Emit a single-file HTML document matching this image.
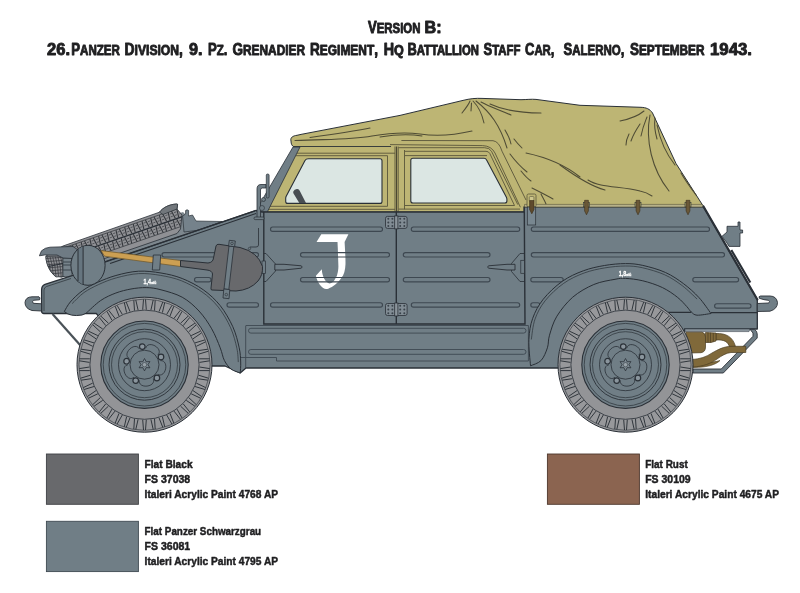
<!DOCTYPE html>
<html lang="en"><head><meta charset="utf-8"><title>Version B</title>
<style>
html,body{margin:0;padding:0;background:#fff;}
body{width:800px;height:593px;overflow:hidden;}
svg{display:block;position:absolute;left:0;top:0;will-change:transform;}
.t text{font-family:"Liberation Sans",sans-serif;font-weight:bold;fill:#1f1f21;stroke:#1f1f21;stroke-linejoin:round;}
.t .h{stroke-width:0.9px;}
.t .l{stroke-width:0.5px;}
</style></head><body>
<svg width="800" height="593" viewBox="0 0 800 593">
<rect width="800" height="593" fill="#ffffff"/>
<path d="M291,141 C290,137.5 293,135.8 297,135.3 L301,134.4 L400,115.4 L463,100.4 C470,98.6 476,98.1 482,98.4 L521,99.7 C527,99.6 531,99 536,99.4 L580,105.3 L641,107.3 C646,107.5 650,109 652.5,113 L676,163.5 L703.5,206.5 L524,206.5 L524,212 L262,212 L294,147 C292,146 291,144 291,141 Z" fill="#bdb574" stroke="#2a3037" stroke-width="1"/>
<path d="M308.5,158.7 L380,158.7 Q382,158.7 382,160.7 L382,201.4 Q382,203.4 380,203.4 L287.7,203.4 Q285.7,203.4 285.7,201.4 L285.7,198.3 Q285.7,197.3 286.2,196.3 L305,160.4 Q305.9,158.7 308.5,158.7 Z" fill="#dbe6e3" stroke="#2a3037" stroke-width="1.1"/>
<path d="M413,158.3 L484,158.3 Q485.8,158.3 486.6,160 L506.4,197.2 Q506.9,198.2 506.9,199.3 L506.9,201 Q506.9,203 504.9,203 L413,203 Q410.8,203 410.8,201 L410.8,160.3 Q410.8,158.3 413,158.3 Z" fill="#dbe6e3" stroke="#2a3037" stroke-width="1.1"/>
<g fill="none" stroke="#59553a" stroke-width="0.9">
<path d="M294,146.5 L391,146.5" stroke="#2a3037"/>
<path d="M297,153.2 L395,153.2 M296,155.7 L387.5,155.7 L387.5,206.3 L270,206.3 M268,209.3 L395,209.3"/>
<path d="M395,146.5 L395,212 M398.2,146.5 L398.2,212 M404.5,150 L404.5,209.3"/><path d="M396.6,146.5 L396.6,212" stroke="#3f3d2c" stroke-width="1"/>
<path d="M398.5,147.7 L484.5,147.7 Q489.5,147.7 491.5,151.3 L517.8,204.6 M404.9,151.3 L486,151.3 Q488.6,151.3 489.8,153.5 L514.5,205.5 M404.9,155.6 L487,155.6 M404.9,205.5 L514.5,205.5 M398.5,209.1 L520,209.1"/><path d="M390,144.6 L482.7,145.6 Q491.5,146 495,153 L520.4,207.2"/>
<path d="M401.4,140.5 L493,140.7 Q499,141.5 502,151.2 L526,200"/>
</g>
<g fill="none" stroke="#4f4c35" stroke-width="1.05" stroke-linecap="round">
<path d="M295,140.5 C330,139 350,140 372,136 C390,133 405,132 420,134 C440,137 455,135 472,131"/>
<path d="M310,137.5 C335,134 355,131 370,128"/>
<path d="M380,137 C395,134.5 410,134 422,136"/>
<path d="M462,113 C466,108 469,104 470,101 M471,111 L471.5,103 M473,101 C478,106 482,114 484,123 M476,101 C490,112 500,125 507,148 M481,102 C490,107 500,110 511,115 M490,104 C505,111 520,113 541,113"/>
<path d="M505,130 C508,135 510,139 511,144 M514,139 C517,143 520,146 522,148 M510,154 C516,162 522,168 527,172 M526,153 C545,157 565,165 580,177 M521,171 C525,176 528,179 531,181 M532,188 C540,192 548,196 553,199 M541,194 C543,198 545,201 546,204"/>
<path d="M620,121 C630,119 638,116 644,111 M647,117 C645,122 643,126 641,136 M640,124 C636,130 633,135 631,141 M629,134 C627,138 626,141 626,145 M650,115 C645,140 652,170 669,191 M655,118 C654,125 655,132 657,139 M657,125 C660,140 667,155 675,165 M681,173 C685,180 690,187 696,195 M588,180 C600,188 620,186 640,191 C645,192 649,194 652,196 M560,165 C575,176 590,186 605,190"/>
</g>
<path d="M293,147 L300,147 L267.3,212 L259,212 L259,205.5 L263.7,197.3 Z" fill="#707e86" stroke="#2a3037" stroke-width="0.8"/>
<path d="M60,278 L106,262 L200,229 L183,212 L100,240 Z" fill="#7d878e"/>
<path d="M63,246 L159.5,212.2 C163,207.5 169,204.5 176.5,204 L177.6,204.3 L177,209 L182,215 L180.5,229 L177,233.5 L106,258 L62,277 L55,276 C50,272 46,264 46,256 Z" fill="#8f9094" stroke="#2a3037" stroke-width="0.8"/>
<clipPath id="st"><path d="M63,246 L159.5,212.2 C163,207.5 169,204.5 176.5,204 L177.6,204.3 L177,209 L182,215 L180.5,229 L177,233.5 L106,258 L62,277 Z"/></clipPath>
<g clip-path="url(#st)"><path d="M67.1,247.0L71.0,254.3M72.5,245.1L74.3,253.1M75.8,244.0L79.7,251.3M81.2,242.1L83.0,250.1M84.5,241.0L88.4,248.3M89.9,239.1L91.7,247.1M93.2,238.0L97.1,245.3M98.6,236.1L100.4,244.1M101.9,235.0L105.8,242.3M107.3,233.1L109.1,241.1M110.6,232.0L114.5,239.3M116.0,230.1L117.8,238.1M119.3,229.0L123.2,236.3M124.7,227.1L126.5,235.1M128.0,226.0L131.9,233.3M133.3,224.1L135.2,232.1M136.7,223.0L140.6,230.3M142.0,221.1L143.9,229.1M145.4,220.0L149.3,227.3M150.7,218.1L152.6,226.1M154.0,216.9L158.0,224.3M159.4,215.1L161.3,223.1M162.7,213.9L166.6,221.3M168.1,212.1L170.0,220.1M171.4,210.9L175.3,218.3M176.8,209.1L178.7,217.1M180.1,207.9L184.0,215.3M185.5,206.1L187.4,214.1M188.8,204.9L192.7,212.3M194.2,203.1L196.0,211.1M72.4,255.3L76.2,262.4M77.8,253.4L79.5,261.3M81.1,252.3L84.9,259.4M86.5,250.4L88.2,258.3M89.8,249.3L93.6,256.4M95.2,247.4L96.9,255.3M98.5,246.3L102.3,253.4M103.9,244.4L105.6,252.3M107.2,243.3L111.0,250.4M112.6,241.4L114.3,249.3M115.9,240.3L119.7,247.4M121.3,238.4L123.0,246.3M124.6,237.3L128.4,244.4M130.0,235.4L131.7,243.3M133.3,234.3L137.1,241.4M138.7,232.4L140.4,240.3M142.0,231.3L145.8,238.4M147.3,229.4L149.1,237.3M150.7,228.3L154.5,235.4M156.0,226.4L157.8,234.3M159.4,225.3L163.2,232.4M164.7,223.4L166.5,231.3M168.1,222.3L171.9,229.4M173.4,220.4L175.2,228.3M176.7,219.3L180.6,226.4M182.1,217.4L183.9,225.3M185.4,216.3L189.3,223.4M190.8,214.4L192.6,222.3M194.1,213.3L198.0,220.4M199.5,211.4L201.3,219.3" stroke="#33363b" stroke-width="1.1" fill="none"/>
<path d="M69.7,248.6L71.8,247.9M70.7,251.4L72.8,250.7M74.1,247.1L76.2,246.4M75.0,249.9L77.1,249.2M78.4,245.6L80.5,244.9M79.4,248.4L81.5,247.7M82.8,244.1L84.9,243.4M83.7,246.9L85.8,246.2M87.1,242.6L89.2,241.9M88.1,245.4L90.2,244.7M91.5,241.1L93.5,240.4M92.4,243.9L94.5,243.2M95.8,239.6L97.9,238.9M96.8,242.4L98.9,241.7M100.2,238.1L102.2,237.4M101.1,240.9L103.2,240.2M104.5,236.6L106.6,235.9M105.5,239.4L107.6,238.7M108.9,235.1L110.9,234.4M109.8,237.9L111.9,237.2M113.2,233.6L115.3,232.9M114.2,236.4L116.3,235.7M117.6,232.1L119.6,231.4M118.5,234.9L120.6,234.2M121.9,230.6L124.0,229.9M122.9,233.4L124.9,232.7M126.3,229.1L128.3,228.4M127.2,231.9L129.3,231.2M130.6,227.6L132.7,226.9M131.6,230.4L133.6,229.7M135.0,226.1L137.0,225.4M135.9,228.9L138.0,228.2M139.3,224.6L141.4,223.9M140.3,227.4L142.3,226.7M143.6,223.1L145.7,222.4M144.6,225.9L146.7,225.2M148.0,221.6L150.1,220.9M149.0,224.4L151.0,223.7M152.3,220.1L154.4,219.4M153.3,222.9L155.4,222.2M156.7,218.6L158.8,217.9M157.7,221.4L159.7,220.7M161.0,217.1L163.1,216.4M162.0,219.9L164.1,219.2M165.4,215.6L167.5,214.9M166.4,218.4L168.4,217.7M169.7,214.1L171.8,213.4M170.7,216.9L172.8,216.2M174.1,212.6L176.2,211.9M175.1,215.4L177.1,214.7M178.4,211.1L180.5,210.4M179.4,213.9L181.5,213.2M182.8,209.6L184.9,208.9M183.7,212.4L185.8,211.7M187.1,208.1L189.2,207.4M188.1,210.9L190.2,210.2M191.5,206.6L193.6,205.9M192.4,209.4L194.5,208.7M195.8,205.1L197.9,204.4M196.8,207.9L198.9,207.2M75.0,256.9L77.1,256.2M76.0,259.6L78.0,258.9M79.4,255.4L81.4,254.7M80.3,258.1L82.4,257.4M83.7,253.9L85.8,253.2M84.6,256.6L86.7,255.9M88.1,252.4L90.1,251.7M89.0,255.1L91.1,254.4M92.4,250.9L94.5,250.2M93.3,253.6L95.4,252.9M96.8,249.4L98.8,248.7M97.7,252.1L99.8,251.4M101.1,247.9L103.2,247.2M102.0,250.6L104.1,249.9M105.5,246.4L107.5,245.7M106.4,249.1L108.5,248.4M109.8,244.9L111.9,244.2M110.7,247.6L112.8,246.9M114.1,243.4L116.2,242.7M115.1,246.1L117.2,245.4M118.5,241.9L120.6,241.2M119.4,244.6L121.5,243.9M122.8,240.4L124.9,239.7M123.8,243.1L125.9,242.4M127.2,238.9L129.3,238.2M128.1,241.6L130.2,240.9M131.5,237.4L133.6,236.7M132.5,240.1L134.6,239.4M135.9,235.9L138.0,235.2M136.8,238.6L138.9,237.9M140.2,234.4L142.3,233.7M141.2,237.1L143.3,236.4M144.6,232.9L146.7,232.2M145.5,235.6L147.6,234.9M148.9,231.4L151.0,230.7M149.9,234.1L152.0,233.4M153.3,229.9L155.4,229.2M154.2,232.6L156.3,231.9M157.6,228.4L159.7,227.7M158.6,231.1L160.7,230.4M162.0,226.9L164.1,226.2M162.9,229.6L165.0,228.9M166.3,225.4L168.4,224.7M167.3,228.1L169.3,227.4M170.7,223.9L172.8,223.2M171.6,226.6L173.7,225.9M175.0,222.4L177.1,221.7M176.0,225.1L178.0,224.4M179.4,220.9L181.5,220.2M180.3,223.6L182.4,222.9M183.7,219.4L185.8,218.7M184.7,222.1L186.7,221.4M188.1,217.9L190.2,217.2M189.0,220.6L191.1,219.9M192.4,216.4L194.5,215.7M193.4,219.1L195.4,218.4M196.8,214.9L198.8,214.2M197.7,217.6L199.8,216.9M201.1,213.4L203.2,212.7M202.1,216.1L204.1,215.4" stroke="#505358" stroke-width="1" fill="none"/>
<path d="M63.8,247.9L196.2,202.2M69.7,264.9L202.1,219.2" stroke="#3a3d42" stroke-width="0.8" fill="none"/>
<path d="M66.8,256.5L199.2,210.8" stroke="#2a3037" stroke-width="1.3" fill="none"/></g>
<path d="M159.5,212.2 C163,207.5 169,204.5 176.5,204 L177.6,204.3 L177,209 L163,214.5 Z" fill="#72777c" stroke="#2a3037" stroke-width="0.7"/>
<path d="M45.8,256.5 L61,256 L63,258 L63,276.5 L56,277 C50,272 46,264 45.8,256.5 Z" fill="#8f9094" stroke="#2a3037" stroke-width="0.7"/>
<clipPath id="ft"><path d="M45.8,256.5 L61,256 L63,258 L63,276.5 L56,277 C50,272 46,264 45.8,256.5 Z"/></clipPath>
<g clip-path="url(#ft)"><path d="M47.5,257.0L49.7,266.0L50.8,276.5M50.1,256.9L52.3,266.0L53.4,276.5M52.7,256.8L54.9,266.0L56.0,276.5M55.3,256.7L57.5,266.0L58.6,276.5M57.9,256.6L60.1,266.0L61.2,276.5M60.5,256.5L62.7,266.0L63.8,276.5M46.0,258.5L62.5,257.3M46.9,261.6L62.5,260.4M47.8,264.7L62.5,263.5M48.7,267.8L62.5,266.6M49.6,270.9L62.5,269.7M50.5,274.0L62.5,272.8" stroke="#34373c" stroke-width="0.7" fill="none"/>
<path d="M46,267 L63,263.5" stroke="#2a3037" stroke-width="1.1"/></g>
<path d="M63,258 L72,258 L72,276.5 L63,276.5 Z" fill="#77838b" stroke="#2a3037" stroke-width="0.6"/><path d="M63,262 L72,262 M63,265 L72,265 M63,270 L72,270" stroke="#3b444c" stroke-width="1.2"/>
<path d="M39.4,255.8 L41.5,250.8 Q45,247.6 50,247.2 L73,246.5 L78,250 L72,258.5 L63,258 L57,255 L44.5,255 Z" fill="#6f7b84" stroke="#2a3037" stroke-width="0.8"/>
<path d="M182.6,216 L185.6,214 L185.6,210.5 Q187,209 188.6,210.5 L188.6,216 L192.5,215 L196,221 L222,221.5 L200,230 L184,232 Z" fill="#75828b" stroke="#2a3037" stroke-width="0.7"/>
<path d="M41.6,290 Q41.6,285.5 45,284.3 L72,275.7 L104,262 L256,210.5 L262,212 L524.3,212 L524.3,206.8 L703.5,206.8 L757.3,299.5 L757.3,329 L750,329 L684.5,329 L684.5,368 L246,368 L240.2,373 L225,366 L144,366 L96,313.3 L44,313.5 Q41.6,313.5 41.6,311 Z" fill="#707e86" stroke="#2a3037" stroke-width="1.3" stroke-linejoin="round"/>
<path d="M44,311 L44,290 Q44,287.5 46.5,286.5 L71,278.5" fill="none" stroke="#2a3037" stroke-width="0.7"/>
<path d="M104,262.5 L256,210.3 M110,263.6 L256,213.4" stroke="#2a3037" stroke-width="1.1" fill="none"/>
<path d="M321.3,234.2 L348.4,234.2 L344.6,242.1 C345,250 345.6,258 345.5,264 C345.3,270 344,275 341.3,278.1 C338,283 333,287 328.3,288.7 C326,289.2 324.5,289 323.6,288.2 C320,286 317,281 315.9,275.8 L321.8,269.3 C322,272 322.3,274 323,275.8 C324,279 326,282.5 329.5,283.4 C332,283 333.5,282 334.2,280.5 C336,278 337,276 337.2,274.6 C338,272 338.4,269 338.4,266.3 L337.8,248.6 L337.5,242.1 L316.5,242.1 Z" fill="#ffffff"/>
<rect x="270.5" y="227.00" width="112.0" height="4.4" rx="2.2" fill="none" stroke="#3e4851" stroke-width="1.15"/>
<rect x="300.5" y="252.60" width="89.0" height="4.4" rx="2.2" fill="none" stroke="#3e4851" stroke-width="1.15"/>
<rect x="300.5" y="277.50" width="89.0" height="4.4" rx="2.2" fill="none" stroke="#3e4851" stroke-width="1.15"/>
<rect x="270.5" y="302.70" width="112.0" height="4.4" rx="2.2" fill="none" stroke="#3e4851" stroke-width="1.15"/>
<rect x="411.3" y="227.00" width="108.4" height="4.4" rx="2.2" fill="none" stroke="#3e4851" stroke-width="1.15"/>
<rect x="403.3" y="252.60" width="86.7" height="4.4" rx="2.2" fill="none" stroke="#3e4851" stroke-width="1.15"/>
<rect x="403.3" y="277.50" width="86.7" height="4.4" rx="2.2" fill="none" stroke="#3e4851" stroke-width="1.15"/>
<rect x="411.3" y="302.70" width="108.4" height="4.4" rx="2.2" fill="none" stroke="#3e4851" stroke-width="1.15"/>
<rect x="531.3" y="227.00" width="178.2" height="4.4" rx="2.2" fill="none" stroke="#3e4851" stroke-width="1.15"/>
<rect x="531.3" y="252.60" width="193.2" height="4.4" rx="2.2" fill="none" stroke="#3e4851" stroke-width="1.15"/>
<rect x="530.8" y="277.50" width="32.4" height="4.4" rx="2.2" fill="none" stroke="#3e4851" stroke-width="1.15"/>
<rect x="692.8" y="277.50" width="45.8" height="4.4" rx="2.2" fill="none" stroke="#3e4851" stroke-width="1.15"/>
<rect x="530.8" y="302.70" width="9.2" height="4.4" rx="2.2" fill="none" stroke="#3e4851" stroke-width="1.15"/>
<rect x="714.6" y="303.70" width="36.4" height="4.4" rx="2.2" fill="none" stroke="#3e4851" stroke-width="1.15"/>
<rect x="162" y="252.60" width="96.5" height="4.4" rx="2.2" fill="none" stroke="#3e4851" stroke-width="1.15"/>
<rect x="194.5" y="277.50" width="16.5" height="4.4" rx="2.2" fill="none" stroke="#3e4851" stroke-width="1.15"/>
<rect x="227" y="302.70" width="31.5" height="4.4" rx="2.2" fill="none" stroke="#3e4851" stroke-width="1.15"/>
<path d="M263.8,212 L263.8,324 L525,324 L524.3,212 M396.3,212 L396.3,324" stroke="#2a3037" stroke-width="1.4" fill="none"/>
<g fill="none" stroke="#3e4851" stroke-width="0.9">
<path d="M246,325.5 L528.4,325.5 L528.4,361 M245.7,325.5 L245.7,368"/>
<rect x="248.5" y="328.3" width="277.5" height="4.8" rx="2.4"/>
<rect x="248.5" y="349.5" width="277.5" height="4.8" rx="2.4"/>
<path d="M241,357.5 L276.5,357.5 L276.5,361 L528.4,361"/>
</g>
<g stroke="#2a3037" stroke-width="0.8" fill="#818c94"><rect x="385.5" y="216.4" width="21.6" height="12" rx="2"/><rect x="394.7" y="215.9" width="3.2" height="13" fill="#8b959c"/><circle cx="388.3" cy="218.70000000000002" r="1" fill="#3a434b" stroke="none"/><circle cx="388.3" cy="222.4" r="1" fill="#3a434b" stroke="none"/><circle cx="388.3" cy="226.1" r="1" fill="#3a434b" stroke="none"/><circle cx="392.40000000000003" cy="218.70000000000002" r="1" fill="#3a434b" stroke="none"/><circle cx="392.40000000000003" cy="222.4" r="1" fill="#3a434b" stroke="none"/><circle cx="392.40000000000003" cy="226.1" r="1" fill="#3a434b" stroke="none"/><circle cx="400.2" cy="218.70000000000002" r="1" fill="#3a434b" stroke="none"/><circle cx="400.2" cy="222.4" r="1" fill="#3a434b" stroke="none"/><circle cx="400.2" cy="226.1" r="1" fill="#3a434b" stroke="none"/><circle cx="404.3" cy="218.70000000000002" r="1" fill="#3a434b" stroke="none"/><circle cx="404.3" cy="222.4" r="1" fill="#3a434b" stroke="none"/><circle cx="404.3" cy="226.1" r="1" fill="#3a434b" stroke="none"/></g>
<g stroke="#2a3037" stroke-width="0.8" fill="#818c94"><rect x="385.5" y="303.5" width="21.6" height="12" rx="2"/><rect x="394.7" y="303.0" width="3.2" height="13" fill="#8b959c"/><circle cx="388.3" cy="305.8" r="1" fill="#3a434b" stroke="none"/><circle cx="388.3" cy="309.5" r="1" fill="#3a434b" stroke="none"/><circle cx="388.3" cy="313.2" r="1" fill="#3a434b" stroke="none"/><circle cx="392.40000000000003" cy="305.8" r="1" fill="#3a434b" stroke="none"/><circle cx="392.40000000000003" cy="309.5" r="1" fill="#3a434b" stroke="none"/><circle cx="392.40000000000003" cy="313.2" r="1" fill="#3a434b" stroke="none"/><circle cx="400.2" cy="305.8" r="1" fill="#3a434b" stroke="none"/><circle cx="400.2" cy="309.5" r="1" fill="#3a434b" stroke="none"/><circle cx="400.2" cy="313.2" r="1" fill="#3a434b" stroke="none"/><circle cx="404.3" cy="305.8" r="1" fill="#3a434b" stroke="none"/><circle cx="404.3" cy="309.5" r="1" fill="#3a434b" stroke="none"/><circle cx="404.3" cy="313.2" r="1" fill="#3a434b" stroke="none"/></g>
<path d="M263.8,253.5 L266,253.5 L275.5,264 L275.5,271 L266,281.5 L263.8,281.5" fill="none" stroke="#2a3037" stroke-width="0.8"/>
<path d="M274.8,264.3 L284,264.3 L301.3,265.8 Q303,267 301.3,268.2 L284,270 L274.8,270 Z" fill="#707e86" stroke="#2a3037" stroke-width="0.9"/>
<rect x="262" y="261" width="3.6" height="12.5" fill="#707e86" stroke="#2a3037" stroke-width="0.7"/>
<path d="M524.3,253.5 L520,253.5 L511.5,263.5 L511.5,271.5 L520,281.5 L524.3,281.5" fill="none" stroke="#2a3037" stroke-width="0.8"/>
<path d="M515,264.3 L507,264.3 L488.5,265.8 Q486.8,267 488.5,268.2 L507,270 L515,270 Z" fill="#707e86" stroke="#2a3037" stroke-width="0.9"/>
<rect x="520.8" y="260.3" width="3.6" height="13" fill="#707e86" stroke="#2a3037" stroke-width="0.7"/>
<path d="M64.3,311.5C65.3,309.9 67.3,305.5 70.3,302.0C73.3,298.5 77.9,294.0 82.5,290.7C87.1,287.4 92.1,284.8 97.7,282.3C103.3,279.8 109.1,277.4 115.9,275.5C122.7,273.6 131.1,271.6 138.6,271.2C146.1,270.8 153.7,271.8 161.0,273.0C168.3,274.2 175.1,275.7 182.2,278.5C189.2,281.3 197.0,285.3 203.3,289.8C209.6,294.3 215.3,299.5 220.2,305.6C225.1,311.8 229.6,319.7 232.8,326.7C236.0,333.7 237.9,341.9 239.2,347.8C240.5,353.7 240.5,357.8 240.7,362.0C240.9,366.2 240.3,371.2 240.2,373.0L240.2,373.0C238.7,372.3 233.6,371.1 231.0,369.0C228.4,366.9 226.2,364.0 224.4,360.5C222.6,357.0 222.3,353.1 220.2,347.8C218.1,342.5 215.2,334.9 211.7,328.8C208.2,322.7 203.9,316.3 199.0,311.0C194.1,305.7 188.5,300.7 182.2,297.2C175.9,293.7 167.0,291.4 161.0,289.8C155.0,288.2 151.2,287.7 146.2,287.6C141.2,287.5 136.1,288.1 131.0,289.0C126.0,289.9 121.0,291.1 115.9,293.0C110.9,294.9 105.7,297.1 100.7,300.5C95.7,303.9 88.5,311.2 86.0,313.3 L82,315 Q70,317 64.3,311.5Z" fill="#707e86" stroke="#2a3037" stroke-width="1"/>
<path d="M72.1,303.6C74.1,301.8 79.5,295.8 83.9,292.6C88.3,289.5 93.3,287.0 98.7,284.5C104.1,282.0 109.9,279.6 116.5,277.8C123.2,276.0 131.4,274.0 138.7,273.6C146.1,273.2 153.5,274.2 160.6,275.4C167.7,276.6 174.4,278.0 181.3,280.7C188.2,283.5 195.7,287.4 201.9,291.8C208.1,296.1 213.5,301.1 218.3,307.1C223.1,313.1 227.5,320.8 230.6,327.7C233.7,334.6 235.6,342.6 236.9,348.3C238.1,354.1 238.1,359.8 238.3,362.1" fill="none" stroke="#2a3037" stroke-width="0.7"/>
<path d="M530.5,365.8C530.2,361.4 528.5,347.3 528.9,339.4C529.3,331.5 530.3,325.0 532.7,318.3C535.1,311.6 538.3,305.5 543.2,299.3C548.1,293.1 555.5,286.1 562.2,281.4C568.9,276.6 576.3,273.4 583.3,270.8C590.3,268.2 597.4,266.7 604.4,265.5C611.4,264.3 619.1,263.6 625.5,263.6C631.9,263.6 636.1,263.9 642.8,265.4C649.5,266.9 658.7,269.4 665.5,272.5C672.3,275.6 678.1,279.6 683.7,283.8C689.3,288.0 694.4,292.6 698.9,297.5C703.4,302.4 709.0,310.8 711.0,313.5L711.0,313.5C708.7,313.8 700.3,315.4 697.0,315.2C693.7,314.9 693.0,313.4 691.3,312.0C689.6,310.6 689.1,309.0 686.8,306.6C684.5,304.2 681.8,300.7 677.7,297.5C673.7,294.3 668.3,290.4 662.5,287.6C656.7,284.8 649.0,282.3 642.8,280.8C636.6,279.3 630.1,278.6 625.5,278.4C620.9,278.1 620.3,278.3 615.0,279.3C609.7,280.3 600.8,281.5 593.8,284.5C586.8,287.5 578.9,291.9 572.7,297.2C566.6,302.5 560.8,309.9 556.9,316.2C553.0,322.5 551.1,329.9 549.5,335.2C547.9,340.5 548.8,343.6 547.4,347.8C546.0,352.0 543.9,357.5 541.1,360.5C538.3,363.5 532.3,364.9 530.5,365.8Z" fill="#707e86" stroke="#2a3037" stroke-width="1"/>
<path d="M531.3,339.5C531.9,336.1 532.7,325.6 535.0,319.1C537.3,312.7 540.3,306.8 545.1,300.8C549.8,294.8 557.1,288.0 563.6,283.4C570.1,278.7 577.3,275.6 584.1,273.0C591.0,270.5 597.9,269.0 604.8,267.9C611.7,266.7 619.3,266.0 625.5,266.0C631.8,266.0 635.8,266.3 642.3,267.7C648.8,269.2 657.9,271.7 664.5,274.7C671.2,277.7 676.8,281.6 682.3,285.7C687.7,289.8 694.7,296.9 697.1,299.1" fill="none" stroke="#2a3037" stroke-width="0.7"/>
<path d="M668,312.4 L691.3,312.4 M711,312.6 L757,312.6" stroke="#2a3037" stroke-width="1.1" fill="none"/>
<path d="M685,329 L750,329 L749,331.6 L685,331.6 Z" fill="#8a959c" stroke="#3e4851" stroke-width="0.6"/>
<path d="M716,333.5 C726,333 733,337 735.5,346.5 L729.5,347 C728,341.5 724,339.5 716,340 Z" fill="#80693a" stroke="#4a3d22" stroke-width="0.7"/>
<path d="M686,332.2 L702,332.2 Q705.5,333 705.5,337 L705.5,347 Q705.5,352 701,352.7 L690,353 Z" fill="#80693a" stroke="#4a3d22" stroke-width="0.7"/>
<path d="M705.5,332.5 L716,333 L716,341 L711,342.5 L705.5,342.5 Z" fill="#80693a" stroke="#4a3d22" stroke-width="0.7"/><path d="M708,332.5 L708,342.5 M710.5,332.7 L710.5,342.5 M713.3,333 L713.3,341.8" stroke="#4a3d22" stroke-width="0.7"/>
<path d="M692,361 C702,362.5 712,363 720,360.5 C716,364.5 708,367.5 693,367.5 Z" fill="#80693a" stroke="#4a3d22" stroke-width="0.6"/>
<path d="M750,329.3 L754.4,329.3 Q757.2,331 757.2,334 L757.2,338 L723.3,373 L693,373 L693,369 L721.3,369 L753,336.3 L753,333 Z" fill="#707e86" stroke="#2a3037" stroke-width="0.9" stroke-linejoin="round"/>
<path d="M692,359.5 C700,359 706,357 712,353 C718,349.5 724,346.5 731,346.3 L745.8,346.3 L745.8,352.5 L731,352.5 C726,353 722,355.5 717,359 C711,363.5 703,366.5 693,367 Z" fill="#80693a" stroke="#4a3d22" stroke-width="0.7"/>
<path d="M52.5,314 L80.5,345.5" stroke="#4a5258" stroke-width="2.2" fill="none"/>
<g transform="translate(144.5,364.7)">
<circle r="67.5" fill="#97989b" stroke="#2a3037" stroke-width="1"/>
<path d="M55.0,2.3L65.2,3.9M54.7,5.9L65.0,5.9M54.0,10.5L63.9,13.5M53.2,14.0L63.4,15.5M51.8,18.4L61.2,22.9M50.5,21.8L60.4,24.8M48.5,25.9L57.1,31.8M46.7,29.1L56.0,33.5M44.1,32.8L51.7,39.9M41.8,35.7L50.4,41.5M38.7,39.1L45.2,47.2M36.1,41.5L43.7,48.6M32.5,44.4L37.6,53.4M29.5,46.4L35.9,54.5M25.5,48.7L29.3,58.4M22.2,50.3L27.4,59.3M17.9,52.0L20.2,62.1M14.5,53.1L18.3,62.7M10.0,54.1L10.7,64.4M6.4,54.6L8.7,64.7M1.8,55.0L1.0,65.3M-1.8,55.0L-1.0,65.3M-6.4,54.6L-8.7,64.7M-10.0,54.1L-10.7,64.4M-14.5,53.1L-18.3,62.7M-17.9,52.0L-20.2,62.1M-22.2,50.3L-27.4,59.3M-25.5,48.7L-29.3,58.4M-29.5,46.4L-35.9,54.5M-32.5,44.4L-37.6,53.4M-36.1,41.5L-43.7,48.6M-38.7,39.1L-45.2,47.2M-41.8,35.7L-50.4,41.5M-44.1,32.8L-51.7,39.9M-46.7,29.1L-56.0,33.5M-48.5,25.9L-57.1,31.8M-50.5,21.8L-60.4,24.8M-51.8,18.4L-61.2,22.9M-53.2,14.0L-63.4,15.5M-54.0,10.5L-63.9,13.5M-54.7,5.9L-65.0,5.9M-55.0,2.3L-65.2,3.9M-55.0,-2.3L-65.2,-3.9M-54.7,-5.9L-65.0,-5.9M-54.0,-10.5L-63.9,-13.5M-53.2,-14.0L-63.4,-15.5M-51.8,-18.4L-61.2,-22.9M-50.5,-21.8L-60.4,-24.8M-48.5,-25.9L-57.1,-31.8M-46.7,-29.1L-56.0,-33.5M-44.1,-32.8L-51.7,-39.9M-41.8,-35.7L-50.4,-41.5M-38.7,-39.1L-45.2,-47.2M-36.1,-41.5L-43.7,-48.6M-32.5,-44.4L-37.6,-53.4M-29.5,-46.4L-35.9,-54.5M-25.5,-48.7L-29.3,-58.4M-22.2,-50.3L-27.4,-59.3M-17.9,-52.0L-20.2,-62.1M-14.5,-53.1L-18.3,-62.7M-10.0,-54.1L-10.7,-64.4M-6.4,-54.6L-8.7,-64.7M-1.8,-55.0L-1.0,-65.3M1.8,-55.0L1.0,-65.3M6.4,-54.6L8.7,-64.7M10.0,-54.1L10.7,-64.4M14.5,-53.1L18.3,-62.7M17.9,-52.0L20.2,-62.1M22.2,-50.3L27.4,-59.3M25.5,-48.7L29.3,-58.4M29.5,-46.4L35.9,-54.5M32.5,-44.4L37.6,-53.4M36.1,-41.5L43.7,-48.6M38.7,-39.1L45.2,-47.2M41.8,-35.7L50.4,-41.5M44.1,-32.8L51.7,-39.9M46.7,-29.1L56.0,-33.5M48.5,-25.9L57.1,-31.8M50.5,-21.8L60.4,-24.8M51.8,-18.4L61.2,-22.9M53.2,-14.0L63.4,-15.5M54.0,-10.5L63.9,-13.5M54.7,-5.9L65.0,-5.9M55.0,-2.3L65.2,-3.9" stroke="#2a3037" stroke-width="0.95" fill="none"/>
<circle r="65.6" fill="none" stroke="#2a3037" stroke-width="0.6"/>
<circle r="54.6" fill="#939497" stroke="#2a3037" stroke-width="0.8"/>
<circle r="43.7" fill="#707e86" stroke="#2a3037" stroke-width="1.1"/>
<circle r="41.3" fill="none" stroke="#2a3037" stroke-width="0.7"/>
<circle r="35.5" fill="none" stroke="#2a3037" stroke-width="0.9"/>
<circle r="33" fill="none" stroke="#2a3037" stroke-width="0.7"/>
<circle r="26" fill="none" stroke="#2a3037" stroke-width="0.8"/>
<circle r="14.5" fill="none" stroke="#2a3037" stroke-width="0.8"/>
<path d="M1.2,-16.5C3.3,-25.3 19.7,-16.2 13.3,-9.7" fill="none" stroke="#2a3037" stroke-width="0.8"/>
<path d="M16.0,-4.0C25.1,-4.7 21.5,13.7 13.3,9.7" fill="none" stroke="#2a3037" stroke-width="0.8"/>
<path d="M8.7,14.0C12.2,22.4 -6.4,24.7 -5.1,15.7" fill="none" stroke="#2a3037" stroke-width="0.8"/>
<path d="M-10.6,12.6C-17.5,18.5 -25.5,1.5 -16.5,0.0" fill="none" stroke="#2a3037" stroke-width="0.8"/>
<path d="M-15.3,-6.2C-23.0,-11.0 -9.3,-23.7 -5.1,-15.7" fill="none" stroke="#2a3037" stroke-width="0.8"/>
<circle cx="-2.2" cy="-18.1" r="2.8" fill="#8a959d" stroke="#2a3037" stroke-width="1.2"/>
<circle cx="16.5" cy="-7.7" r="2.8" fill="#8a959d" stroke="#2a3037" stroke-width="1.2"/>
<circle cx="12.4" cy="13.3" r="2.8" fill="#8a959d" stroke="#2a3037" stroke-width="1.2"/>
<circle cx="-8.8" cy="15.9" r="2.8" fill="#8a959d" stroke="#2a3037" stroke-width="1.2"/>
<circle cx="-17.9" cy="-3.5" r="2.8" fill="#8a959d" stroke="#2a3037" stroke-width="1.2"/>
<polygon points="0.0,-6.2 1.7,-2.9 5.4,-3.1 3.4,0.0 5.4,3.1 1.7,2.9 0.0,6.2 -1.7,2.9 -5.4,3.1 -3.4,0.0 -5.4,-3.1 -1.7,-2.9" fill="#7d8a93" stroke="#2a3037" stroke-width="0.8"/>
<circle r="2.2" fill="#98a2a9" stroke="#2a3037" stroke-width="0.5"/>
</g>
<g transform="translate(625.5,364.7)">
<circle r="67.5" fill="#97989b" stroke="#2a3037" stroke-width="1"/>
<path d="M55.0,2.3L65.2,3.9M54.7,5.9L65.0,5.9M54.0,10.5L63.9,13.5M53.2,14.0L63.4,15.5M51.8,18.4L61.2,22.9M50.5,21.8L60.4,24.8M48.5,25.9L57.1,31.8M46.7,29.1L56.0,33.5M44.1,32.8L51.7,39.9M41.8,35.7L50.4,41.5M38.7,39.1L45.2,47.2M36.1,41.5L43.7,48.6M32.5,44.4L37.6,53.4M29.5,46.4L35.9,54.5M25.5,48.7L29.3,58.4M22.2,50.3L27.4,59.3M17.9,52.0L20.2,62.1M14.5,53.1L18.3,62.7M10.0,54.1L10.7,64.4M6.4,54.6L8.7,64.7M1.8,55.0L1.0,65.3M-1.8,55.0L-1.0,65.3M-6.4,54.6L-8.7,64.7M-10.0,54.1L-10.7,64.4M-14.5,53.1L-18.3,62.7M-17.9,52.0L-20.2,62.1M-22.2,50.3L-27.4,59.3M-25.5,48.7L-29.3,58.4M-29.5,46.4L-35.9,54.5M-32.5,44.4L-37.6,53.4M-36.1,41.5L-43.7,48.6M-38.7,39.1L-45.2,47.2M-41.8,35.7L-50.4,41.5M-44.1,32.8L-51.7,39.9M-46.7,29.1L-56.0,33.5M-48.5,25.9L-57.1,31.8M-50.5,21.8L-60.4,24.8M-51.8,18.4L-61.2,22.9M-53.2,14.0L-63.4,15.5M-54.0,10.5L-63.9,13.5M-54.7,5.9L-65.0,5.9M-55.0,2.3L-65.2,3.9M-55.0,-2.3L-65.2,-3.9M-54.7,-5.9L-65.0,-5.9M-54.0,-10.5L-63.9,-13.5M-53.2,-14.0L-63.4,-15.5M-51.8,-18.4L-61.2,-22.9M-50.5,-21.8L-60.4,-24.8M-48.5,-25.9L-57.1,-31.8M-46.7,-29.1L-56.0,-33.5M-44.1,-32.8L-51.7,-39.9M-41.8,-35.7L-50.4,-41.5M-38.7,-39.1L-45.2,-47.2M-36.1,-41.5L-43.7,-48.6M-32.5,-44.4L-37.6,-53.4M-29.5,-46.4L-35.9,-54.5M-25.5,-48.7L-29.3,-58.4M-22.2,-50.3L-27.4,-59.3M-17.9,-52.0L-20.2,-62.1M-14.5,-53.1L-18.3,-62.7M-10.0,-54.1L-10.7,-64.4M-6.4,-54.6L-8.7,-64.7M-1.8,-55.0L-1.0,-65.3M1.8,-55.0L1.0,-65.3M6.4,-54.6L8.7,-64.7M10.0,-54.1L10.7,-64.4M14.5,-53.1L18.3,-62.7M17.9,-52.0L20.2,-62.1M22.2,-50.3L27.4,-59.3M25.5,-48.7L29.3,-58.4M29.5,-46.4L35.9,-54.5M32.5,-44.4L37.6,-53.4M36.1,-41.5L43.7,-48.6M38.7,-39.1L45.2,-47.2M41.8,-35.7L50.4,-41.5M44.1,-32.8L51.7,-39.9M46.7,-29.1L56.0,-33.5M48.5,-25.9L57.1,-31.8M50.5,-21.8L60.4,-24.8M51.8,-18.4L61.2,-22.9M53.2,-14.0L63.4,-15.5M54.0,-10.5L63.9,-13.5M54.7,-5.9L65.0,-5.9M55.0,-2.3L65.2,-3.9" stroke="#2a3037" stroke-width="0.95" fill="none"/>
<circle r="65.6" fill="none" stroke="#2a3037" stroke-width="0.6"/>
<circle r="54.6" fill="#939497" stroke="#2a3037" stroke-width="0.8"/>
<circle r="43.7" fill="#707e86" stroke="#2a3037" stroke-width="1.1"/>
<circle r="41.3" fill="none" stroke="#2a3037" stroke-width="0.7"/>
<circle r="35.5" fill="none" stroke="#2a3037" stroke-width="0.9"/>
<circle r="33" fill="none" stroke="#2a3037" stroke-width="0.7"/>
<circle r="26" fill="none" stroke="#2a3037" stroke-width="0.8"/>
<circle r="14.5" fill="none" stroke="#2a3037" stroke-width="0.8"/>
<path d="M1.2,-16.5C3.3,-25.3 19.7,-16.2 13.3,-9.7" fill="none" stroke="#2a3037" stroke-width="0.8"/>
<path d="M16.0,-4.0C25.1,-4.7 21.5,13.7 13.3,9.7" fill="none" stroke="#2a3037" stroke-width="0.8"/>
<path d="M8.7,14.0C12.2,22.4 -6.4,24.7 -5.1,15.7" fill="none" stroke="#2a3037" stroke-width="0.8"/>
<path d="M-10.6,12.6C-17.5,18.5 -25.5,1.5 -16.5,0.0" fill="none" stroke="#2a3037" stroke-width="0.8"/>
<path d="M-15.3,-6.2C-23.0,-11.0 -9.3,-23.7 -5.1,-15.7" fill="none" stroke="#2a3037" stroke-width="0.8"/>
<circle cx="-2.2" cy="-18.1" r="2.8" fill="#8a959d" stroke="#2a3037" stroke-width="1.2"/>
<circle cx="16.5" cy="-7.7" r="2.8" fill="#8a959d" stroke="#2a3037" stroke-width="1.2"/>
<circle cx="12.4" cy="13.3" r="2.8" fill="#8a959d" stroke="#2a3037" stroke-width="1.2"/>
<circle cx="-8.8" cy="15.9" r="2.8" fill="#8a959d" stroke="#2a3037" stroke-width="1.2"/>
<circle cx="-17.9" cy="-3.5" r="2.8" fill="#8a959d" stroke="#2a3037" stroke-width="1.2"/>
<polygon points="0.0,-6.2 1.7,-2.9 5.4,-3.1 3.4,0.0 5.4,3.1 1.7,2.9 0.0,6.2 -1.7,2.9 -5.4,3.1 -3.4,0.0 -5.4,-3.1 -1.7,-2.9" fill="#7d8a93" stroke="#2a3037" stroke-width="0.8"/>
<circle r="2.2" fill="#98a2a9" stroke="#2a3037" stroke-width="0.5"/>
</g>
<ellipse cx="88" cy="265.3" rx="17.1" ry="20" fill="#707e86" stroke="#2a3037" stroke-width="1"/>
<path d="M78,249.2 L78,281.5 L83.1,284.5 L83.1,246.2 Z" fill="#66757f" stroke="none"/>
<path d="M78,249.2 L78,281.5 M83.1,246.2 L83.1,284.5" stroke="#2a3037" stroke-width="1" fill="none"/>
<path d="M101,250.6 L180.5,260.5 L180.5,266.5 L104.5,256.2 Z" fill="#cc9f52" stroke="#6b5428" stroke-width="0.7"/>
<path d="M153.3,255 L160.7,255 L159.7,270 L152.3,270 Z" fill="#707e86" stroke="#2a3037" stroke-width="0.8"/>
<path d="M180.5,260.5 L208,263 Q213,262.5 213.5,258 L216,246 Q216.5,244 219,244.3 L240,247.5 Q258,252 262.5,266.5 Q263,275 258,281 Q250,290 236,291 L212,290 Q210.5,290 211,288 L212.5,274 Q212,270.5 207,270 L180.5,266.5 Z" fill="#68696c" stroke="#2a3037" stroke-width="1"/>
<path d="M229,246 L233.8,246.5 L228.8,289.5 L224,289 Z" fill="#707e86" stroke="#2a3037" stroke-width="0.8"/>
<path d="M229.3,240.3 L235.3,241 L234.6,246.7 L228.6,246 Z M223.8,289 L229.8,289.6 L229,298.7 L223,298 Z" fill="#707e86" stroke="#2a3037" stroke-width="0.8"/>
<circle cx="232" cy="243.4" r="1.3" fill="none" stroke="#2a3037" stroke-width="0.6"/><circle cx="226.3" cy="294.6" r="1.3" fill="none" stroke="#2a3037" stroke-width="0.6"/>
<path d="M258.5,228 L258.5,245 Q258.5,247 256,247 L250,247" fill="none" stroke="#2a3037" stroke-width="0.8"/><circle cx="249.5" cy="248.5" r="1.2" fill="none" stroke="#2a3037" stroke-width="0.6"/>
<path d="M257,218 L257,189 Q257,184.5 261,184.5 L266,184.5 L266,188 L262.3,188 Q260.5,188 260.5,190 L260.5,218 Z" fill="#707e86" stroke="#2a3037" stroke-width="0.8"/>
<rect x="266.3" y="174" width="2.8" height="24" rx="1.3" fill="#707e86" stroke="#2a3037" stroke-width="0.7"/>
<rect x="254" y="217" width="10" height="2.6" rx="1.2" fill="#707e86" stroke="#2a3037" stroke-width="0.7"/>
<circle cx="263.5" cy="199.5" r="2" fill="#707e86" stroke="#2a3037" stroke-width="0.7"/><circle cx="262" cy="208" r="2.5" fill="#707e86" stroke="#2a3037" stroke-width="0.6"/>
<path d="M293.3,191.5 Q294.5,188.6 297.5,189 Q299,189.3 299.7,190.7 L306,203 L299.3,203 L293.5,193.5 Q293,192.5 293.3,191.5 Z" fill="#484e53"/>
<path d="M524.5,204.4 L702.3,204.4 L703.8,207 L524.5,207 Z" fill="#b7b189" stroke="#59553a" stroke-width="0.6"/>
<path d="M703.5,206.5 L757.3,299.5" stroke="#2a3037" stroke-width="2.2" stroke-linecap="round" fill="none"/>
<rect x="583.5" y="202.3" width="6" height="4.6" fill="#bdb574" stroke="#2a3037" stroke-width="0.6"/><path d="M584.6,200.3 L588.4,200.3 L588.4,211 L586.5,214.8 L584.6,211 Z" fill="#6a5838" stroke="#3a2f1c" stroke-width="0.6"/>
<rect x="635" y="202.3" width="6" height="4.6" fill="#bdb574" stroke="#2a3037" stroke-width="0.6"/><path d="M636.1,200.3 L639.9,200.3 L639.9,211 L638,214.8 L636.1,211 Z" fill="#6a5838" stroke="#3a2f1c" stroke-width="0.6"/>
<rect x="685" y="202.3" width="6" height="4.6" fill="#bdb574" stroke="#2a3037" stroke-width="0.6"/><path d="M686.1,200.3 L689.9,200.3 L689.9,211 L688,214.8 L686.1,211 Z" fill="#6a5838" stroke="#3a2f1c" stroke-width="0.6"/>
<rect x="527" y="194" width="9" height="13" rx="1.5" fill="#bdb574" stroke="#59553a" stroke-width="0.8"/><rect x="527.3" y="207" width="8.4" height="18" fill="#788790" stroke="#2a3037" stroke-width="0.7"/><rect x="529.3" y="196.5" width="4.6" height="5" rx="1" fill="#cfc88e" stroke="#59553a" stroke-width="0.6"/><path d="M529.6,200.5 L534,200.5 L534,209.5 L531.8,213.8 L529.6,209.5 Z" fill="#5e4a2c" stroke="#3a2d18" stroke-width="0.6"/>
<path d="M722,236.3 L727,232 L727,226.3 L738,226.3 L738,222 L740,222 L740,230 L742.6,230 L742.6,233 L740,233 L740,246.4 L729,246.4 L727,243 Z" fill="#707e86" stroke="#2a3037" stroke-width="0.8"/>
<path d="M731.3,250 L750.3,282.5" stroke="#2a3037" stroke-width="2.2" fill="none"/>
<path d="M757.3,311.5 L770,311.2 Q777.5,309 777.5,302.5 Q776.5,296.2 770,296 L760.5,296 Q758.3,296.2 759.3,298.3 Q764,300 768.5,300.3 Q770.3,301.5 768.8,303 L757.3,303.5 Z" fill="#707e86" stroke="#2a3037" stroke-width="0.9" stroke-linejoin="round"/>
<path d="M41.6,311 L32,310.5 Q25,308.5 25,302.5 Q25.5,297 32,296.8 L39,296.8 Q40.6,297.5 39.6,299.8 L33.5,300.3 Q31.8,301.5 33.3,303.3 L41.6,303.8 Z" fill="#707e86" stroke="#2a3037" stroke-width="0.9" stroke-linejoin="round"/>
<g style="opacity:0.999"><text transform="translate(143.6,283.9) scale(0.8,1)" font-family='"Liberation Sans",sans-serif' font-weight="bold" fill="#fff" stroke="#fff" stroke-width="0.25" font-size="6.8">1,4<tspan font-size="4.2">atü</tspan></text></g>
<g style="opacity:0.999"><text transform="translate(618.8,276.4) scale(0.8,1)" font-family='"Liberation Sans",sans-serif' font-weight="bold" fill="#fff" stroke="#fff" stroke-width="0.25" font-size="6.8">1,8<tspan font-size="4.2">atü</tspan></text></g>
<rect x="46.4" y="454" width="92" height="50.3" fill="#68696c" stroke="#3f4145" stroke-width="0.9"/>
<rect x="46.4" y="521.3" width="92" height="50.3" fill="#707e86" stroke="#3f4a52" stroke-width="0.9"/>
<rect x="547.4" y="454" width="92" height="50.3" fill="#8b6450" stroke="#4d372c" stroke-width="0.9"/>
<g class="t" style="opacity:0.999">
<text class="h" transform="translate(368.00,32.60) scale(0.8157,1)" xml:space="preserve"><tspan font-size="16.0">V</tspan><tspan font-size="14.0">ERSION</tspan></text>
<text class="h" transform="translate(424.50,32.60) scale(1.0124,1)" xml:space="preserve"><tspan font-size="16.0">B:</tspan></text>
<text class="h" transform="translate(47.00,54.80) scale(1.0337,1)" xml:space="preserve"><tspan font-size="16.0">26.</tspan></text>
<text class="h" transform="translate(71.30,54.80) scale(0.8267,1)" xml:space="preserve"><tspan font-size="16.0">P</tspan><tspan font-size="14.0">ANZER</tspan></text>
<text class="h" transform="translate(124.50,54.80) scale(0.8683,1)" xml:space="preserve"><tspan font-size="16.0">D</tspan><tspan font-size="14.0">IVISION</tspan><tspan font-size="16.0">,</tspan></text>
<text class="h" transform="translate(189.00,54.80) scale(1.0117,1)" xml:space="preserve"><tspan font-size="16.0">9.</tspan></text>
<text class="h" transform="translate(208.00,54.80) scale(0.8232,1)" xml:space="preserve"><tspan font-size="16.0">P</tspan><tspan font-size="14.0">Z</tspan><tspan font-size="16.0">.</tspan></text>
<text class="h" transform="translate(232.50,54.80) scale(0.8472,1)" xml:space="preserve"><tspan font-size="16.0">G</tspan><tspan font-size="14.0">RENADIER</tspan></text>
<text class="h" transform="translate(310.00,54.80) scale(0.8522,1)" xml:space="preserve"><tspan font-size="16.0">R</tspan><tspan font-size="14.0">EGIMENT</tspan><tspan font-size="16.0">,</tspan></text>
<text class="h" transform="translate(383.70,54.80) scale(0.8952,1)" xml:space="preserve"><tspan font-size="16.0">H</tspan><tspan font-size="14.0">Q</tspan></text>
<text class="h" transform="translate(407.40,54.80) scale(0.8062,1)" xml:space="preserve"><tspan font-size="16.0">B</tspan><tspan font-size="14.0">ATTALLION</tspan></text>
<text class="h" transform="translate(483.50,54.80) scale(0.8149,1)" xml:space="preserve"><tspan font-size="16.0">S</tspan><tspan font-size="14.0">TAFF</tspan></text>
<text class="h" transform="translate(525.00,54.80) scale(0.8138,1)" xml:space="preserve"><tspan font-size="16.0">C</tspan><tspan font-size="14.0">AR</tspan><tspan font-size="16.0">,</tspan></text>
<text class="h" transform="translate(563.50,54.80) scale(0.8215,1)" xml:space="preserve"><tspan font-size="16.0">S</tspan><tspan font-size="14.0">ALERNO</tspan><tspan font-size="16.0">,</tspan></text>
<text class="h" transform="translate(630.00,54.80) scale(0.8421,1)" xml:space="preserve"><tspan font-size="16.0">S</tspan><tspan font-size="14.0">EPTEMBER</tspan></text>
<text class="h" transform="translate(710.00,54.80) scale(1.0488,1)" xml:space="preserve"><tspan font-size="16.0">1943.</tspan></text>
<text class="l" transform="translate(144.60,468.20) scale(0.8762,1)" xml:space="preserve"><tspan font-size="11.6">Flat Black</tspan></text>
<text class="l" transform="translate(144.60,483.20) scale(0.9069,1)" xml:space="preserve"><tspan font-size="11.6">FS 37038</tspan></text>
<text class="l" transform="translate(144.60,498.40) scale(0.8797,1)" xml:space="preserve"><tspan font-size="11.6">Italeri Acrylic Paint 4768 AP</tspan></text>
<text class="l" transform="translate(144.60,535.40) scale(0.8496,1)" xml:space="preserve"><tspan font-size="11.6">Flat Panzer Schwarzgrau</tspan></text>
<text class="l" transform="translate(144.60,550.20) scale(0.9069,1)" xml:space="preserve"><tspan font-size="11.6">FS 36081</tspan></text>
<text class="l" transform="translate(144.60,565.40) scale(0.8797,1)" xml:space="preserve"><tspan font-size="11.6">Italeri Acrylic Paint 4795 AP</tspan></text>
<text class="l" transform="translate(645.20,468.20) scale(0.8587,1)" xml:space="preserve"><tspan font-size="11.6">Flat Rust</tspan></text>
<text class="l" transform="translate(645.20,483.20) scale(0.9029,1)" xml:space="preserve"><tspan font-size="11.6">FS 30109</tspan></text>
<text class="l" transform="translate(645.20,498.40) scale(0.8823,1)" xml:space="preserve"><tspan font-size="11.6">Italeri Acrylic Paint 4675 AP</tspan></text>
</g>
</svg>
</body></html>
